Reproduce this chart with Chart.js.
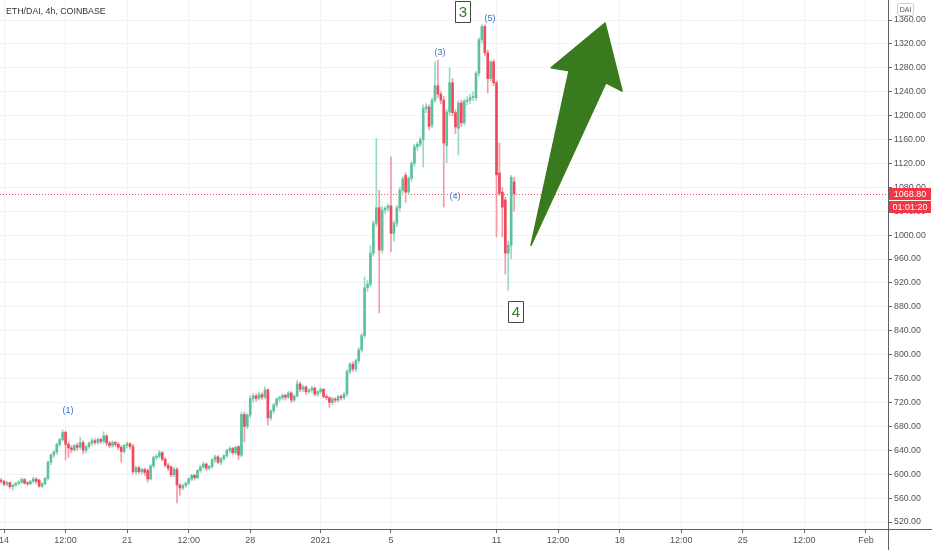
<!DOCTYPE html>
<html><head><meta charset="utf-8">
<script src="https://cdn.jsdelivr.net/npm/chart.js@4.4.1/dist/chart.umd.min.js"></script>
<style>html,body{margin:0;padding:0;background:#fff;overflow:hidden}#wrap{width:932px;height:550px;position:relative}</style>
</head><body><div id="wrap"><canvas id="c" width="932" height="550"></canvas></div>
<script>
// ---------- DATA ----------
const chartTitle = 'ETH/DAI, 4h, COINBASE';
const quoteCurrency = 'DAI';
const lastPriceLabel = '1068.80';
const lastPrice = 1068.8;
const countdownLabel = '01:01:20';
// candle time: days from Dec 14 00:00; first candle Dec 13 20:00, 4h step
const firstCandleDay = -1/6;
const candleStepDays = 1/6;

const openP = [
590,588,583,586,579,582,585,587,591,585,
584,588,592,590,580,584,593,620,632,637,
650,658,670,650,644,641,648,645,653,640,
646,652,656,653,658,655,664,652,648,653,
650,645,638,648,651,646,604,611,604,608,
606,592,614,628,630,636,625,615,612,599,
608,582,577,581,585,592,598,594,606,612,
617,610,613,624,629,620,626,631,640,643,
636,646,632,700,680,699,727,731,727,733,
729,741,694,706,716,726,728,732,729,736,
724,731,751,742,746,738,741,744,734,738,
742,730,728,720,726,724,730,728,734,772,
784,776,790,808,832,912,918,970,1020,1046,
975,1042,1045,1049,1003,1020,1046,1075,1100,1072,
1095,1120,1148,1152,1160,1212,1214,1184,1226,1250,
1236,1226,1150,1206,1255,1205,1179,1221,1188,1224,
1226,1230,1230,1271,1327,1349,1305,1262,1290,1255,
1104,1072,1059,970,983,1089];
const highP = [
593,590,588,587,583,586,589,594,593,588,
590,595,594,592,586,595,622,634,640,652,
660,674,672,654,648,650,652,662,656,648,
654,660,659,661,660,671,666,655,656,655,
653,648,650,654,653,650,614,613,610,610,
609,616,630,633,640,638,628,618,614,612,
611,584,584,587,594,600,600,608,615,620,
619,615,626,632,631,628,633,642,646,645,
647,648,704,704,702,732,735,734,737,736,
746,743,708,718,728,731,735,734,739,738,
733,757,754,749,748,743,747,746,740,745,
744,733,730,729,728,732,733,737,775,787,
788,793,812,836,930,924,982,1024,1162,1075,
1048,1048,1052,1131,1024,1050,1080,1098,1104,1098,
1124,1152,1156,1164,1218,1220,1218,1230,1290,1293,
1240,1232,1210,1280,1262,1210,1225,1226,1228,1232,
1236,1240,1274,1330,1352,1352,1310,1292,1294,1258,
1154,1080,1064,990,1100,1097];
const lowP = [
585,581,580,576,574,579,582,584,583,581,
582,585,584,578,577,582,590,616,628,633,
646,655,624,628,636,638,640,642,634,636,
643,648,650,650,651,652,648,644,645,646,
641,620,635,644,642,600,600,601,600,598,
587,590,611,624,627,622,612,606,596,596,
552,565,574,578,582,589,590,592,603,609,
606,607,610,620,617,616,623,628,636,633,
633,624,629,654,676,695,720,722,724,725,
726,682,690,702,712,721,724,724,726,720,
721,729,738,738,734,735,737,731,730,735,
727,724,712,716,720,721,724,725,731,768,
772,772,786,804,828,906,914,965,1015,870,
970,1036,1040,972,990,1014,1040,1070,1055,1068,
1090,1115,1142,1148,1114,1205,1176,1180,1222,1230,
1220,1047,1121,1200,1200,1170,1134,1182,1184,1218,
1220,1225,1226,1266,1322,1300,1238,1258,1250,997,
1066,997,935,908,960,1040];
const closeP = [
588,583,586,579,582,585,587,591,585,584,
588,592,588,580,584,593,620,632,637,650,
658,670,650,644,641,648,645,653,640,646,
652,656,653,658,655,664,652,648,653,650,
645,638,648,651,646,604,611,604,608,603,
592,614,628,630,636,625,615,610,599,608,
582,577,581,585,592,598,594,606,612,617,
610,613,624,629,620,626,631,640,643,636,
645,632,700,680,699,727,731,727,733,729,
741,694,706,716,726,728,732,729,736,724,
731,751,742,746,738,741,744,734,738,742,
730,728,720,726,724,730,728,734,772,784,
776,790,808,832,912,918,970,1020,1046,975,
1042,1045,1049,1003,1020,1046,1075,1094,1072,1095,
1120,1148,1152,1160,1212,1215,1182,1226,1250,1236,
1226,1154,1206,1255,1205,1181,1221,1188,1224,1226,
1230,1232,1271,1327,1349,1305,1262,1290,1255,1101,
1070,1047,970,983,1097,1068.8];

const xTickDays = [0,3.5,7,10.5,14,18,22,28,31.5,35,38.5,42,45.5,49];
const xTickLabels = ['14','12:00','21','12:00','28','2021','5','11','12:00','18','12:00','25','12:00','Feb'];
const yTickValues = [520,560,600,640,680,720,760,800,840,880,920,960,1000,1040,1080,1120,1160,1200,1240,1280,1320,1360];

// wave labels: [text, day, price]
const waveLabels = [['(1)',3.64,706],['(3)',24.79,1306],['(5)',27.63,1362],['(4)',25.64,1064]];
// boxed labels: [text, day, price]
const boxLabels = [['3',26.09,1373],['4',29.11,871]];
// arrow outline [day, price]
const arrowDays   = [29.96, 32.12, 31.10, 34.17, 35.14, 34.22];
const arrowPrices = [983,   1275,  1280,  1355,  1241,  1255];

// ---------- CHART ----------
const UP='#5cc29e', DOWN='#ef4a5c', UPW='#98d9c1', DOWNW='#f39aa5';
const FONT='"Liberation Sans", Arial, sans-serif';
const xs = closeP.map((_, i) => firstCandleDay + i * candleStepDays);
const isUp = closeP.map((c, i) => c >= openP[i]);
const bodies = xs.map((x, i) => ({x, y:[openP[i], closeP[i]]}));
const wicks = xs.map((x, i) => ({x, y:[lowP[i], highP[i]]}));

const decor = {
  id:'decor',
  beforeDatasetsDraw(chart){
    const {ctx, chartArea:a, scales:{y}} = chart;
    const py = Math.round(y.getPixelForValue(lastPrice)) + 0.5;
    ctx.save();
    ctx.strokeStyle = 'rgba(242,54,69,0.85)'; ctx.lineWidth = 1; ctx.setLineDash([1,2]);
    ctx.beginPath(); ctx.moveTo(a.left, py); ctx.lineTo(a.right, py); ctx.stroke();
    ctx.restore();
  },
  afterDatasetsDraw(chart){
    const {ctx, scales:{x, y}} = chart;
    ctx.save();
    // arrow
    ctx.beginPath();
    arrowDays.forEach((d, k) => {
      const px = x.getPixelForValue(d), py = y.getPixelForValue(arrowPrices[k]);
      if (k === 0) ctx.moveTo(px, py); else ctx.lineTo(px, py);
    });
    ctx.closePath();
    ctx.fillStyle = '#3a7a1f'; ctx.fill();
    ctx.lineJoin='round'; ctx.strokeStyle='#3a7a1f'; ctx.lineWidth=1.5; ctx.stroke();
    // wave labels
    ctx.font = '9px ' + FONT; ctx.fillStyle = '#3f6fcf';
    ctx.textAlign = 'center'; ctx.textBaseline = 'middle';
    waveLabels.forEach(([t, d, p]) => ctx.fillText(t, x.getPixelForValue(d), y.getPixelForValue(p)));
    // boxed labels
    boxLabels.forEach(([t, d, p]) => {
      const cx = Math.round(x.getPixelForValue(d)), cy = Math.round(y.getPixelForValue(p));
      ctx.fillStyle = 'rgba(255,255,255,0.9)';
      ctx.fillRect(cx - 7.5, cy - 10.5, 15, 21);
      ctx.strokeStyle = '#444'; ctx.lineWidth = 1;
      ctx.strokeRect(cx - 7.5, cy - 10.5, 15, 21);
      ctx.fillStyle = '#2f7d24'; ctx.font = '15px ' + FONT;
      ctx.fillText(t, cx, cy + 1);
    });
    ctx.restore();
  },
  afterDraw(chart){
    const {ctx, chartArea:a, scales:{y}, width, height} = chart;
    ctx.save();
    // axis lines
    ctx.strokeStyle = '#5d606b'; ctx.lineWidth = 1;
    ctx.beginPath();
    ctx.moveTo(Math.round(a.right)+0.5, 0); ctx.lineTo(Math.round(a.right)+0.5, height);
    ctx.moveTo(0, Math.round(a.bottom)+0.5); ctx.lineTo(width, Math.round(a.bottom)+0.5);
    ctx.stroke();
    // price tag
    const py = Math.round(y.getPixelForValue(lastPrice));
    const bx = Math.round(a.right) + 1, bw = width - bx - 1;
    ctx.fillStyle = '#f23645';
    ctx.fillRect(bx, py - 6, bw, 12);
    ctx.fillRect(bx, py + 7, bw, 12);
    ctx.fillStyle = '#fff'; ctx.font = '9px ' + FONT;
    ctx.textAlign = 'center'; ctx.textBaseline = 'middle';
    ctx.fillText(lastPriceLabel, bx + bw/2, py + 0.5);
    ctx.fillText(countdownLabel, bx + bw/2, py + 13.5);
    // currency box
    ctx.strokeStyle = '#c9ccd4'; ctx.fillStyle='#fff';
    ctx.beginPath();
    if (ctx.roundRect) ctx.roundRect(897.5, 3.5, 16, 12, 2); else ctx.rect(897.5,3.5,16,12);
    ctx.fill(); ctx.stroke();
    ctx.fillStyle = '#555'; ctx.font = '7px ' + FONT;
    ctx.fillText(quoteCurrency, 905.5, 10);
    // title
    ctx.textAlign = 'left'; ctx.fillStyle = '#333';
    ctx.font = '8.8px ' + FONT;
    ctx.fillText(chartTitle, 6, 12);
    ctx.restore();
  }
};

new Chart(document.getElementById('c'), {
  type: 'bar',
  data: {
    datasets: [
      { data: bodies, backgroundColor: isUp.map(u => u ? UP : DOWN), barThickness: 2,
        minBarLength: 1, grouped: false, borderWidth: 0 },
      { data: wicks, backgroundColor: isUp.map(u => u ? UPW : DOWNW), barThickness: 1,
        grouped: false, borderWidth: 0 }
    ]
  },
  options: {
    responsive: false, animation: false, events: [],
    layout: { padding: 0 },
    plugins: { legend: { display: false }, tooltip: { enabled: false }, title: { display: false } },
    scales: {
      x: {
        type: 'linear', offset: false,
        min: -4/17.59, max: 884/17.59,
        afterBuildTicks: s => { s.ticks = xTickDays.map(v => ({ value: v })); },
        afterFit: s => { s.height = 21; s.paddingLeft = 0; s.paddingRight = 0; },
        grid: { color: '#f0f2f6', tickColor: '#5d606b', tickLength: 4, offset: false },
        border: { display: false },
        ticks: { autoSkip: false, maxRotation: 0, padding: 2, color: '#50535e',
          font: { family: FONT, size: 9 },
          callback: v => { const k = xTickDays.indexOf(v); return k >= 0 ? xTickLabels[k] : ''; } }
      },
      y: {
        type: 'linear', position: 'right',
        min: 508.3, max: 1393.5,
        afterBuildTicks: s => { s.ticks = yTickValues.map(v => ({ value: v })); },
        afterFit: s => { s.width = 44; s.paddingTop = 0; s.paddingBottom = 0; },
        grid: { color: '#f0f2f6', tickColor: '#5d606b', tickLength: 4 },
        border: { display: false },
        ticks: { autoSkip: false, padding: 2, color: '#50535e',
          font: { family: FONT, size: 8.8 },
          callback: v => Number(v).toFixed(2) }
      }
    }
  },
  plugins: [decor]
});
</script></body></html>
